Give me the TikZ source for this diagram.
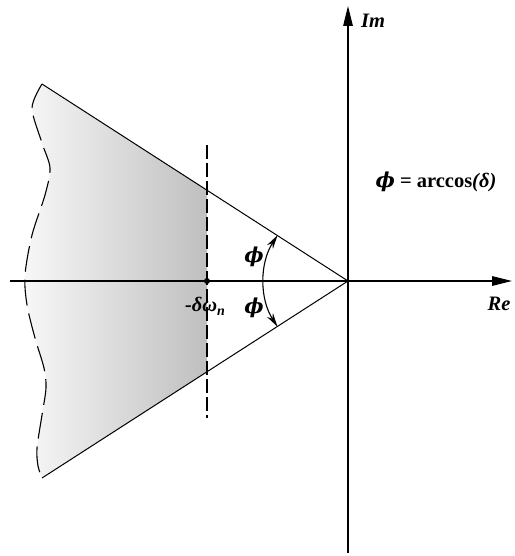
\documentclass[tikz,border=0pt]{standalone}
\usepackage{fontspec}
\setmainfont{Liberation Serif}
\newfontfamily\phifont{DejaVu Serif}
\usetikzlibrary{arrows.meta,calc}
\begin{document}
\begin{tikzpicture}[x=1pt,y=-1pt,
  lbl/.style={font=\fontsize{20.5}{24}\selectfont\bfseries\itshape, inner sep=0pt},
  axisline/.style={line width=1.3pt, -{Triangle[length=20pt,width=9.5pt]}},
  thinline/.style={line width=1pt},
  wavyedge/.style={line width=1.1pt, dash pattern=on 26pt off 8pt},
  limitline/.style={line width=1.1pt, dash pattern=on 14pt off 4pt},
  anglearrow/.style={line width=1.1pt, {Stealth[length=14pt,width=7pt]}-{Stealth[length=14pt,width=7pt]}}]
\useasboundingbox (0,0) rectangle (514,556);
% key points
\coordinate (O) at (348,281);
\coordinate (TL) at (42,84);
\coordinate (BL) at (42,478);
\coordinate (DU) at (207,189.8);
\coordinate (DL) at (207,372.2);
\coordinate (D) at (207,281);
\coordinate (DT) at (207,145);
\coordinate (DB) at (207,418);
\coordinate (ReL) at (10,281);
\coordinate (ReR) at (512,281);
\coordinate (ImB) at (348,553);
\coordinate (ImT) at (348,6);
% shaded region
\shade[left color=gray!6, right color=gray!50]
  (TL) -- (DU) -- (DL) -- (BL)
  plot[smooth] coordinates {(42,478) (38,466) (37,448) (42,415) (46,388) (44,368) (35,338) (27,305) (25,275) (32,235) (45,195) (50,168) (42,143) (32,108) (42,84)} -- cycle;
% wavy dashed edge
\draw[wavyedge] plot[smooth] coordinates {(42,84) (32,108) (42,143) (50,168) (45,195) (32,235) (25,275) (27,305) (35,338) (44,368) (46,388) (42,415) (37,448) (38,466) (42,478)};
% boundary lines
\draw[thinline] (TL) -- (O);
\draw[thinline] (BL) -- (O);
% dashed limit line
\draw[limitline] (DT) -- (DB);
% axes
\draw[axisline] (ReL) -- (ReR);
\draw[axisline] (ImB) -- (ImT);
\fill (D) circle[radius=3];
% angle arc
\draw[anglearrow] ($(O)+(147:84)$) arc[start angle=147, end angle=213, radius=84];
% labels
\node[lbl] (im) at (373,21) {Im};
\node[lbl] (re) at (499,304) {Re};
\node[lbl] (dw) at (205,306) {-δω\raisebox{-4pt}{\fontsize{14}{15}\selectfont n}};
\node[lbl] (phiU) at (254,257) {\phifont ϕ};
\node[lbl] (phiL) at (254,308) {\phifont ϕ};
\node[font=\fontsize{20.5}{24}\selectfont\bfseries, inner sep=0pt] (eq) at (436,182) {{\itshape\phifont ϕ} = arccos\textit{(δ)}};
\end{tikzpicture}
\end{document}
